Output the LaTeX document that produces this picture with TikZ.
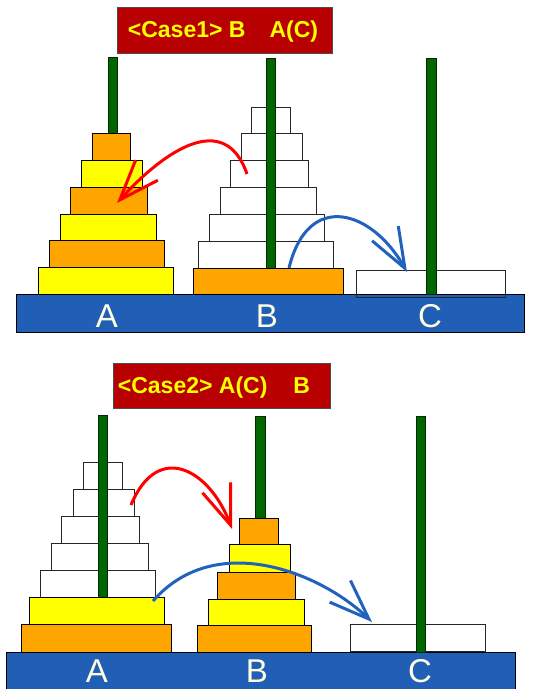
\documentclass[tikz,border=0pt]{standalone}
\usepackage{fontspec}
\setmainfont{Liberation Sans}
\usetikzlibrary{arrows.meta}
\definecolor{diskorange}{RGB}{255,165,0}
\definecolor{diskyellow}{RGB}{255,255,0}
\definecolor{peggreen}{RGB}{0,102,0}
\definecolor{baseblue}{RGB}{33,94,181}
\definecolor{titlered}{RGB}{184,0,0}
\definecolor{labcream}{RGB}{255,255,228}
\definecolor{arrblue}{RGB}{33,98,190}
\tikzset{
  % Disklar
  diskO/.style     = {fill=diskorange, draw=black, line width=1pt},
  diskY/.style     = {fill=diskyellow, draw=black, line width=1pt},
  diskW/.style     = {draw=black!85, line width=1pt},
  % Ustunlar va taglik
  pegbar/.style    = {fill=peggreen, draw=black!60!peggreen, line width=0.7pt},
  baseplate/.style = {fill=baseblue, draw=black, line width=1pt},
  % Sarlavha
  titletext/.style = {font=\fontsize{23pt}{25pt}\selectfont\bfseries, text=diskyellow, anchor=base, inner sep=0pt},
  titlebox/.style  = {fill=titlered, draw=black!70, line width=1pt},
  % Etiketlar
  baselab/.style   = {font=\fontsize{33pt}{36pt}\selectfont, text=labcream, anchor=base, inner sep=0pt},
  % Ko'chirish o'qlari
  movered/.style   = {draw=red, line width=3pt, -{Straight Barb[length=40pt,width=30pt]}},
  moveblue/.style  = {draw=arrblue, line width=3pt, -{Straight Barb[length=40pt,width=30pt]}},
}

\begin{document}
\begin{tikzpicture}[x=1pt, y=-1pt]
  \useasboundingbox (0,0) rectangle (535,689);
  % ===== Case 1 =====
  \draw[titlebox] (117,7) rectangle (332,53);
  \node[titletext] (case1) at (223,37) {<Case1> B\hspace{24pt}A(C)};
  % Taglik
  \draw[baseplate] (16,294) rectangle (524,332);
  % Bo'sh disklar (B va C)
  \draw[diskW] (251,107) rectangle (290,133);
  \draw[diskW] (241,133) rectangle (302,160);
  \draw[diskW] (230,160) rectangle (308,187);
  \draw[diskW] (220,187) rectangle (316,214);
  \draw[diskW] (209,214) rectangle (324,241);
  \draw[diskW] (198,241) rectangle (333,268);
  \draw[diskW] (356,270) rectangle (505,297);
  % Ustunlar
  \draw[pegbar] (108,57) rectangle (117,294);
  \draw[pegbar] (266,58) rectangle (275,294);
  \draw[pegbar] (426,58) rectangle (436,294);
  % A ustundagi disklar
  \draw[diskY] (38,267) rectangle (173,294);
  \draw[diskO] (49,240) rectangle (164,267);
  \draw[diskY] (60,214) rectangle (156,240);
  \draw[diskO] (70,187) rectangle (147,214);
  \draw[diskY] (81,160) rectangle (142,187);
  \draw[diskO] (92,133) rectangle (130,160);
  % B ustundagi disk
  \draw[diskO] (193,268) rectangle (343,294);
  % Etiketlar
  \node[baselab] (labA1) at (107,327) {A};
  \node[baselab] (labB1) at (267,327) {B};
  \node[baselab] (labC1) at (430,327) {C};
  % O'qlar
  \coordinate (r1s) at (247,174);
  \coordinate (r1e) at (117,203);
  \draw[movered] (r1s) .. controls (225,110) and (165,150) .. (r1e);
  \coordinate (b1s) at (289,268);
  \coordinate (b1e) at (407,272);
  \draw[moveblue] (b1s) .. controls (308,190) and (372,210) .. (b1e);

  % ===== Case 2 =====
  \draw[titlebox] (113,363) rectangle (330,408);
  \node[titletext] (case2) at (214,393) {<Case2> A(C)\hspace{26pt}B};
  % Taglik
  \draw[baseplate] (6,652) rectangle (515,700);
  % Bo'sh disklar (A va C)
  \draw[diskW] (83,462) rectangle (122,489);
  \draw[diskW] (73,489) rectangle (134,516);
  \draw[diskW] (61,516) rectangle (139,543);
  \draw[diskW] (51,543) rectangle (148,570);
  \draw[diskW] (40,570) rectangle (155,597);
  \draw[diskW] (350,624) rectangle (485,651);
  % Ustunlar
  \draw[pegbar] (98,415) rectangle (107,652);
  \draw[pegbar] (255,416) rectangle (265,652);
  \draw[pegbar] (416,416) rectangle (425,652);
  % A ustundagi disklar
  \draw[diskO] (21,624) rectangle (171,652);
  \draw[diskY] (29,597) rectangle (164,624);
  % B ustundagi disklar
  \draw[diskO] (197,625) rectangle (311,652);
  \draw[diskY] (208,599) rectangle (304,625);
  \draw[diskO] (217,572) rectangle (295,599);
  \draw[diskY] (229,544) rectangle (290,572);
  \draw[diskO] (239,518) rectangle (278,544);
  % Etiketlar
  \node[baselab] (labA2) at (97,682) {A};
  \node[baselab] (labB2) at (257,682) {B};
  \node[baselab] (labC2) at (420,682) {C};
  % O'qlar
  \coordinate (r2s) at (131,505);
  \coordinate (r2e) at (232,529);
  \draw[movered] (r2s) .. controls (158,440) and (210,470) .. (r2e);
  \coordinate (b2s) at (153,601);
  \coordinate (b2e) at (372,622);
  \draw[moveblue] (b2s) .. controls (215,530) and (320,572) .. (b2e);
\end{tikzpicture}
\end{document}
